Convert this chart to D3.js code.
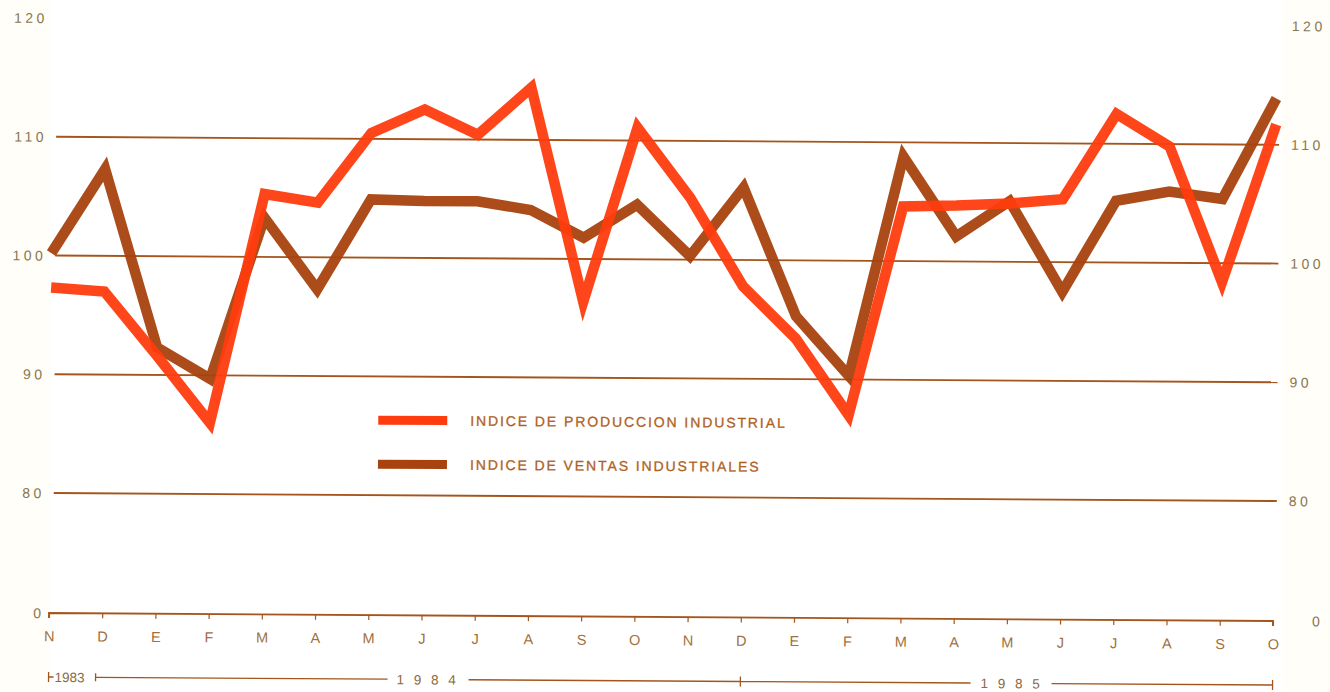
<!DOCTYPE html>
<html><head><meta charset="utf-8">
<script src="https://cdn.jsdelivr.net/npm/d3@7"></script>
<style>body{margin:0;background:#fffef8;} svg{display:block;}</style>
</head><body>
<svg id="c" width="1330" height="692"></svg>
<script>
const months = ["N","D","E","F","M","A","M","J","J","A","S","O","N","D","E","F","M","A","M","J","J","A","S","O"];
const produccion = [97.3,97.0,91.6,86.0,105.3,104.6,110.5,112.5,110.4,114.4,96.4,111.1,105.2,97.8,93.4,87.0,104.6,104.7,104.9,105.3,112.5,109.8,98.4,111.7];
const ventas = [100.2,107.3,92.3,89.7,103.3,97.3,104.9,104.8,104.8,104.1,101.8,104.6,100.3,106.1,95.3,90.3,108.8,102.1,105.1,97.5,105.2,106.0,105.4,113.9];
const yTicks = [0,80,90,100,110,120];
const seriesNames = ["INDICE DE PRODUCCION INDUSTRIAL","INDICE DE VENTAS INDUSTRIALES"];
const years = ["1983","1 9 8 4","1 9 8 5"];

const svg = d3.select("#c");
svg.append("rect").attr("x",50).attr("y",0).attr("width",1232).attr("height",692).attr("fill","#ffffff");
const g = svg.append("g").attr("transform","rotate(0.375,53,0)");

const x = d3.scalePoint().domain(d3.range(months.length)).range([53,1277]);
const y = d3.scaleLinear().domain([0,80,120]).range([613,493,18]);

const gridCol = "#a4551c", labCol = "#8a7650";
g.selectAll(".grid").data(yTicks.filter(v=>v>0 && v<120)).enter().append("line")
  .attr("x1",57).attr("x2",1280).attr("y1",d=>y(d)).attr("y2",d=>y(d))
  .attr("stroke",gridCol).attr("stroke-width",1.8);
const fnt = "'Liberation Sans', Arial, sans-serif";
g.selectAll(".yl").data(yTicks).enter().append("text")
  .attr("x",d=>d===0?45:48).attr("y",d=>y(d)+5).attr("text-anchor","end")
  .attr("font-family",fnt).attr("font-size",14).attr("letter-spacing",d=>d===0?0:3.5)
  .attr("fill",labCol).text(d=>d);
g.selectAll(".yr").data(yTicks).enter().append("text")
  .attr("x",d=>d===0?1316:1292).attr("y",d=>y(d)+5).attr("text-anchor","start")
  .attr("font-family",fnt).attr("font-size",14).attr("letter-spacing",3.5)
  .attr("fill",labCol).text(d=>d);

const xa = g.append("g").attr("transform",`translate(0,${y(0)})`)
  .call(d3.axisBottom(x).tickSize(5).tickPadding(13).tickFormat(i=>months[i]));
xa.select(".domain").attr("stroke",gridCol).attr("stroke-width",1.8).attr("d",`M53,5V0H1277V5`);
xa.selectAll(".tick line").attr("stroke",gridCol).attr("stroke-width",1.2);
xa.selectAll(".tick text").attr("fill","#a07040").attr("font-family",fnt).attr("font-size",14.5);

const yy = 677;
const yr = g.append("g").attr("fill","none").attr("stroke",gridCol).attr("stroke-width",1.3);
yr.append("path").attr("d",`M53,${yy-5}V${yy+5}M53,${yy}H58`);
yr.append("path").attr("d",`M100,${yy}H392`);
yr.append("path").attr("d",`M100,${yy-4}V${yy+4}`);
yr.append("path").attr("d",`M473,${yy}H${x(13)}M${x(13)},${yy-5}V${yy+5}M${x(13)},${yy}H975`);
yr.append("path").attr("d",`M1056,${yy}H1277M1277,${yy-5}V${yy+5}`);
const yt = g.append("g").attr("font-family",fnt).attr("font-size",13.5).attr("fill","#8a6a40");
yt.append("text").attr("x",59).attr("y",yy+5).attr("letter-spacing",0).text(years[0]);
yt.append("text").attr("x",401).attr("y",yy+5).attr("letter-spacing",3).text(years[1]);
yt.append("text").attr("x",985).attr("y",yy+5).attr("letter-spacing",3).text(years[2]);

const line = d3.line().x((d,i)=>x(i)).y(d=>y(d));
const cols = ["#ff3c0e","#a8420e"];
[ventas, produccion].forEach((s,k)=>{
  g.append("path").datum(s).attr("d",line).attr("fill","none")
   .attr("stroke",k===0?cols[1]:cols[0]).attr("stroke-width",10.5)
   .attr("stroke-linejoin","miter").attr("stroke-opacity",0.95);
});

const lg = g.append("g");
[0,1].forEach(k=>{
  const ly = 418 + k*44;
  lg.append("line").attr("x1",381).attr("x2",450).attr("y1",ly).attr("y2",ly)
    .attr("stroke",cols[k]).attr("stroke-width",9);
  lg.append("text").attr("x",473).attr("y",ly+5).attr("font-family",fnt)
    .attr("font-size",14).attr("letter-spacing",1.9).attr("fill","#b0601e")
    .attr("stroke","#b0601e").attr("stroke-width",0.3).text(seriesNames[k]);
});
</script>
</body></html>
